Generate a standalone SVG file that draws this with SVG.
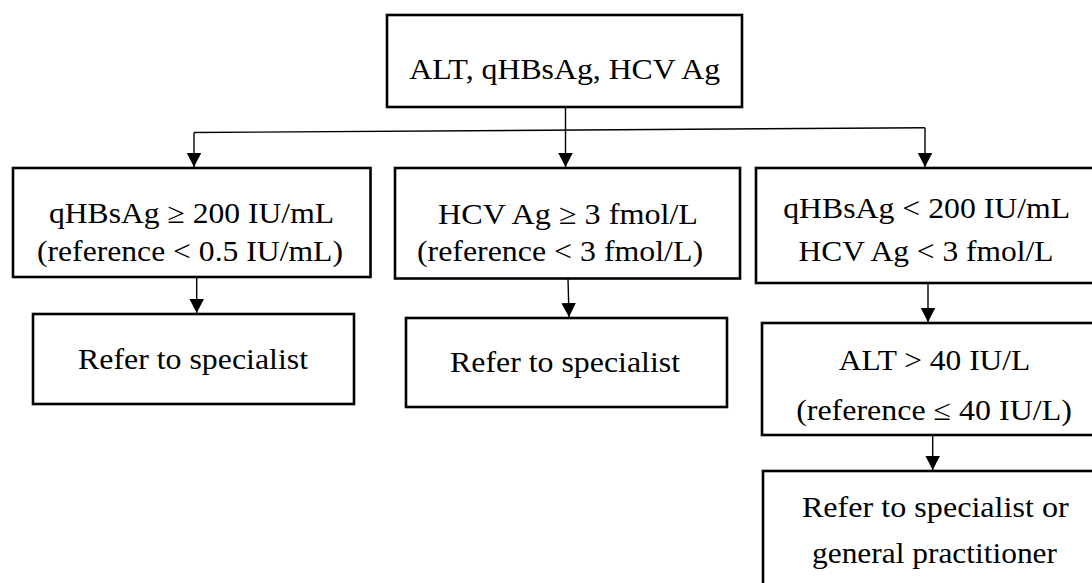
<svg xmlns="http://www.w3.org/2000/svg" width="1092" height="583" viewBox="0 0 1092 583">
<defs>
<marker id="arr" markerUnits="userSpaceOnUse" markerWidth="15" markerHeight="15" refX="14" refY="7.25" orient="auto">
<path d="M0,0 L14,7.25 L0,14.5 Z" fill="#000"/>
</marker>
<style>
.box{fill:#fff;stroke:#000;stroke-width:2.6}
.t{font-family:"Liberation Serif","Times New Roman",serif;font-size:29px;fill:#000;text-anchor:middle}
.c{fill:none;stroke:#000;stroke-width:1.4;marker-end:url(#arr)}
.l{fill:none;stroke:#000;stroke-width:1.4}
</style>
</defs>
<rect width="1092" height="583" fill="#fff"/>
<g id="connectors">
<line class="l" x1="565.5" y1="107" x2="565.5" y2="130"/>
<line class="l" x1="194" y1="132.5" x2="925" y2="127.7"/>
<line class="c" x1="194" y1="132.5" x2="194" y2="167"/>
<line class="c" x1="565.5" y1="130" x2="565.5" y2="167"/>
<line class="c" x1="925" y1="127.7" x2="925" y2="167"/>
<line class="c" x1="196.7" y1="277" x2="196.7" y2="313"/>
<line class="c" x1="568" y1="278.5" x2="569" y2="317"/>
<line class="c" x1="928" y1="283" x2="928" y2="322"/>
<line class="c" x1="932.7" y1="435" x2="932.7" y2="470"/>
</g>
<g id="n-top">
<rect class="box" x="387" y="15" width="355" height="92"/>
<text class="t" x="564.7" y="79" textLength="311" lengthAdjust="spacingAndGlyphs">ALT, qHBsAg, HCV Ag</text>
</g>
<g id="n-hbs-high">
<rect class="box" x="13" y="168" width="357.5" height="109"/>
<text class="t" x="191.5" y="223" textLength="285" lengthAdjust="spacingAndGlyphs">qHBsAg ≥ 200 IU/mL</text>
<text class="t" x="190" y="261" textLength="306" lengthAdjust="spacingAndGlyphs">(reference &lt; 0.5 IU/mL)</text>
</g>
<g id="n-hcv-high">
<rect class="box" x="395" y="168" width="345" height="110.5"/>
<text class="t" x="568" y="224" textLength="260" lengthAdjust="spacingAndGlyphs">HCV Ag ≥ 3 fmol/L</text>
<text class="t" x="560" y="261" textLength="286" lengthAdjust="spacingAndGlyphs">(reference &lt; 3 fmol/L)</text>
</g>
<g id="n-both-low">
<rect class="box" x="756" y="168" width="342" height="115"/>
<text class="t" x="926.7" y="218" textLength="287" lengthAdjust="spacingAndGlyphs">qHBsAg &lt; 200 IU/mL</text>
<text class="t" x="926" y="261" textLength="255" lengthAdjust="spacingAndGlyphs">HCV Ag &lt; 3 fmol/L</text>
</g>
<g id="n-refer-1">
<rect class="box" x="33" y="314" width="321" height="90"/>
<text class="t" x="193" y="369" textLength="230" lengthAdjust="spacingAndGlyphs">Refer to specialist</text>
</g>
<g id="n-refer-2">
<rect class="box" x="406" y="318" width="321" height="89"/>
<text class="t" x="565" y="371.5" textLength="230" lengthAdjust="spacingAndGlyphs">Refer to specialist</text>
</g>
<g id="n-alt">
<rect class="box" x="762" y="323" width="336" height="112"/>
<text class="t" x="934.5" y="370" textLength="191.6" lengthAdjust="spacingAndGlyphs">ALT &gt; 40 IU/L</text>
<text class="t" x="934" y="420" textLength="275.7" lengthAdjust="spacingAndGlyphs">(reference ≤ 40 IU/L)</text>
</g>
<g id="n-refer-3">
<rect class="box" x="763" y="471" width="335" height="120"/>
<text class="t" x="935.3" y="517" textLength="266.7" lengthAdjust="spacingAndGlyphs">Refer to  specialist or</text>
<text class="t" x="934.5" y="563" textLength="245" lengthAdjust="spacingAndGlyphs">general practitioner</text>
</g>
</svg>
